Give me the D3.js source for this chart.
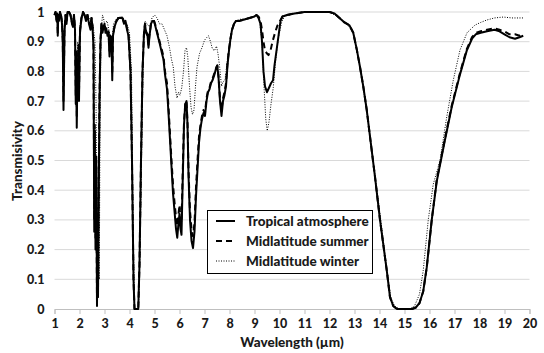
<!DOCTYPE html>
<html>
<head>
<meta charset="utf-8">
<script src="https://cdn.jsdelivr.net/npm/d3@7"></script>
<style>
  html, body { margin: 0; padding: 0; background: #fff; }
  svg { display: block; }
  text { font-family: Lato, "Open Sans", sans-serif; font-weight: 900; fill: #1a1a1a; }
</style>
</head>
<body>
<svg id="chart" width="544" height="353"></svg>
<script>
// Spectral transmissivity, [wavelength (µm), transmissivity]
const tropical = [
  [1.00,0.99],[1.04,1.0],[1.08,0.97],[1.11,0.995],[1.13,0.92],[1.15,0.99],[1.18,0.97],[1.22,1.0],
  [1.26,0.99],[1.30,0.96],[1.33,0.90],[1.36,0.67],[1.38,0.80],[1.40,0.93],[1.44,0.99],[1.48,0.96],
  [1.52,1.0],[1.58,1.0],[1.64,0.99],[1.70,0.96],[1.74,0.95],[1.78,0.99],[1.82,0.94],[1.85,0.69],
  [1.87,0.86],[1.89,0.61],[1.92,0.82],[1.94,0.75],[1.96,0.88],[1.98,0.70],[2.02,0.93],[2.08,0.98],
  [2.14,1.0],[2.20,0.99],[2.26,0.97],[2.32,0.99],[2.38,0.96],[2.44,0.94],[2.48,0.98],[2.52,0.95],
  [2.56,0.88],[2.59,0.26],[2.61,0.60],[2.64,0.20],[2.67,0.50],[2.70,0.01],[2.72,0.30],[2.74,0.04],
  [2.77,0.40],[2.80,0.70],[2.84,0.90],[2.88,0.96],[2.92,0.93],[2.96,0.95],[3.00,0.96],[3.04,0.93],
  [3.08,0.94],[3.12,0.92],[3.16,0.93],[3.20,0.85],[3.24,0.92],[3.28,0.91],[3.31,0.77],[3.34,0.92],
  [3.40,0.95],[3.48,0.97],[3.56,0.98],[3.64,0.98],[3.72,0.98],[3.78,0.96],[3.84,0.97],[3.90,0.94],
  [3.96,0.92],[4.04,0.80],[4.10,0.50],[4.16,0.10],[4.20,0.0],[4.35,0.0],[4.40,0.15],[4.46,0.50],
  [4.52,0.80],[4.58,0.93],[4.62,0.96],[4.66,0.93],[4.72,0.92],[4.76,0.88],[4.80,0.92],[4.86,0.96],
  [4.92,0.97],[4.98,0.97],[5.04,0.95],[5.10,0.93],[5.16,0.91],[5.22,0.89],[5.30,0.86],[5.36,0.84],
  [5.42,0.79],[5.50,0.74],[5.56,0.66],[5.62,0.57],[5.68,0.48],[5.74,0.39],[5.80,0.33],[5.86,0.27],
  [5.91,0.24],[5.96,0.29],[6.00,0.32],[6.04,0.27],[6.08,0.25],[6.12,0.40],[6.18,0.62],[6.23,0.69],
  [6.28,0.70],[6.32,0.62],[6.36,0.45],[6.42,0.30],[6.48,0.23],[6.54,0.205],[6.60,0.26],[6.66,0.38],
  [6.72,0.47],[6.78,0.56],[6.84,0.61],[6.90,0.64],[6.96,0.66],[7.02,0.65],[7.08,0.70],[7.14,0.73],
  [7.20,0.74],[7.26,0.76],[7.32,0.77],[7.40,0.79],[7.46,0.81],[7.51,0.82],[7.56,0.78],[7.62,0.70],
  [7.68,0.65],[7.74,0.70],[7.80,0.72],[7.86,0.75],[7.92,0.82],[7.98,0.87],[8.04,0.91],[8.10,0.94],
  [8.18,0.96],[8.26,0.97],[8.40,0.97],[8.60,0.975],[8.80,0.98],[9.00,0.985],[9.08,0.99],[9.16,0.98],
  [9.24,0.96],[9.30,0.90],[9.36,0.80],[9.42,0.75],[9.50,0.73],[9.58,0.745],[9.66,0.76],[9.74,0.77],
  [9.80,0.82],[9.88,0.87],[9.96,0.92],[10.04,0.97],[10.12,0.985],[10.3,0.99],[10.6,0.995],[11.0,1.0],
  [11.5,1.0],[12.0,1.0],[12.2,0.995],[12.4,0.98],[12.6,0.965],[12.8,0.955],[12.95,0.93],[13.1,0.87],
  [13.22,0.815],[13.35,0.75],[13.49,0.67],[13.65,0.56],[13.82,0.445],[14.02,0.30],[14.29,0.13],
  [14.42,0.04],[14.55,0.01],[14.7,0.0],[15.3,0.0],[15.45,0.005],[15.6,0.02],[15.75,0.06],[15.89,0.14],
  [16.09,0.30],[16.29,0.43],[16.62,0.57],[16.89,0.68],[17.22,0.79],[17.49,0.87],[17.7,0.91],
  [17.85,0.925],[18.05,0.93],[18.3,0.935],[18.6,0.94],[18.8,0.935],[19.0,0.925],[19.2,0.915],
  [19.42,0.91],[19.6,0.915],[19.75,0.92]
];

const midSummer = [
  [1.00,0.99],[1.04,1.0],[1.08,0.975],[1.11,0.995],[1.13,0.93],[1.15,0.99],[1.18,0.975],[1.22,1.0],
  [1.26,0.99],[1.30,0.965],[1.33,0.91],[1.36,0.70],[1.38,0.82],[1.40,0.94],[1.44,0.99],[1.48,0.965],
  [1.52,1.0],[1.58,1.0],[1.64,0.99],[1.70,0.965],[1.74,0.955],[1.78,0.99],[1.82,0.945],[1.85,0.72],
  [1.87,0.87],[1.89,0.65],[1.92,0.84],[1.94,0.78],[1.96,0.89],[1.98,0.73],[2.02,0.94],[2.08,0.98],
  [2.14,1.0],[2.20,0.99],[2.26,0.975],[2.32,0.99],[2.38,0.965],[2.44,0.95],[2.48,0.98],[2.52,0.955],
  [2.56,0.89],[2.59,0.30],[2.61,0.62],[2.64,0.24],[2.67,0.52],[2.70,0.02],[2.72,0.33],[2.74,0.06],
  [2.77,0.43],[2.80,0.72],[2.84,0.91],[2.88,0.96],[2.92,0.94],[2.96,0.955],[3.00,0.96],[3.04,0.94],
  [3.08,0.945],[3.12,0.93],[3.16,0.935],[3.20,0.87],[3.24,0.925],[3.28,0.915],[3.31,0.79],[3.34,0.925],
  [3.40,0.95],[3.48,0.97],[3.56,0.98],[3.64,0.98],[3.72,0.98],[3.78,0.965],[3.84,0.97],[3.90,0.945],
  [3.96,0.925],[4.04,0.80],[4.10,0.50],[4.16,0.10],[4.20,0.0],[4.35,0.0],[4.40,0.15],[4.46,0.50],
  [4.52,0.80],[4.58,0.93],[4.62,0.96],[4.66,0.935],[4.72,0.925],[4.76,0.89],[4.80,0.925],[4.86,0.96],
  [4.92,0.97],[4.98,0.97],[5.04,0.955],[5.10,0.935],[5.16,0.915],[5.22,0.895],[5.30,0.87],[5.36,0.85],
  [5.42,0.80],[5.50,0.76],[5.56,0.68],[5.62,0.59],[5.68,0.50],[5.74,0.42],[5.80,0.36],[5.86,0.31],
  [5.91,0.28],[5.96,0.32],[6.00,0.35],[6.04,0.30],[6.08,0.29],[6.12,0.43],[6.18,0.63],[6.23,0.69],
  [6.28,0.70],[6.32,0.63],[6.36,0.47],[6.42,0.33],[6.48,0.27],[6.54,0.245],[6.60,0.29],[6.66,0.41],
  [6.72,0.50],[6.78,0.58],[6.84,0.62],[6.90,0.65],[6.96,0.67],[7.02,0.66],[7.08,0.71],[7.14,0.735],
  [7.20,0.745],[7.26,0.765],[7.32,0.775],[7.40,0.795],[7.46,0.81],[7.51,0.82],[7.56,0.785],[7.62,0.71],
  [7.68,0.67],[7.74,0.71],[7.80,0.73],[7.86,0.76],[7.92,0.83],[7.98,0.875],[8.04,0.91],[8.10,0.94],
  [8.18,0.96],[8.26,0.97],[8.40,0.97],[8.60,0.975],[8.80,0.98],[9.00,0.985],[9.08,0.99],[9.16,0.985],
  [9.24,0.97],[9.30,0.94],[9.36,0.90],[9.42,0.87],[9.50,0.86],[9.56,0.855],[9.64,0.87],[9.72,0.90],
  [9.82,0.93],[9.92,0.955],[10.02,0.97],[10.12,0.985],[10.3,0.99],[10.6,0.995],[11.0,1.0],
  [11.5,1.0],[12.0,1.0],[12.2,0.995],[12.4,0.98],[12.6,0.965],[12.8,0.955],[12.95,0.93],[13.1,0.87],
  [13.22,0.815],[13.35,0.75],[13.49,0.67],[13.65,0.56],[13.82,0.445],[14.02,0.30],[14.29,0.13],
  [14.42,0.04],[14.55,0.01],[14.7,0.0],[15.3,0.0],[15.45,0.005],[15.6,0.02],[15.75,0.06],[15.89,0.14],
  [16.09,0.30],[16.29,0.435],[16.62,0.575],[16.89,0.685],[17.22,0.795],[17.49,0.875],[17.7,0.915],
  [17.85,0.93],[18.05,0.935],[18.3,0.94],[18.6,0.945],[18.8,0.94],[19.0,0.935],[19.2,0.925],
  [19.42,0.925],[19.6,0.92],[19.75,0.925]
];

const midWinter = [
  [1.00,0.99],[1.10,0.99],[1.13,0.96],[1.20,0.99],[1.30,0.98],[1.36,0.88],[1.40,0.96],[1.50,1.0],
  [1.70,0.98],[1.80,0.97],[1.86,0.85],[1.89,0.80],[1.93,0.90],[1.97,0.85],[2.02,0.96],[2.10,0.99],
  [2.30,0.99],[2.45,0.97],[2.55,0.95],[2.62,0.90],[2.66,0.70],[2.70,0.30],[2.73,0.05],[2.76,0.20],
  [2.79,0.10],[2.82,0.60],[2.86,0.93],[2.92,0.99],[2.96,0.98],[3.00,0.96],[3.10,0.97],[3.20,0.93],
  [3.30,0.90],[3.36,0.96],[3.50,0.98],[3.70,0.985],[3.90,0.96],[4.00,0.93],[4.08,0.80],[4.14,0.30],
  [4.20,0.0],[4.36,0.0],[4.42,0.20],[4.50,0.60],[4.56,0.90],[4.62,0.97],[4.70,0.96],[4.80,0.95],
  [4.90,0.98],[5.00,0.99],[5.10,0.98],[5.20,0.96],[5.30,0.96],[5.40,0.94],[5.50,0.92],[5.60,0.88],
  [5.68,0.84],[5.75,0.815],[5.82,0.75],[5.90,0.71],[5.96,0.73],[6.02,0.72],[6.09,0.745],[6.16,0.80],
  [6.22,0.87],[6.28,0.88],[6.33,0.85],[6.40,0.75],[6.46,0.68],[6.52,0.655],[6.58,0.67],[6.64,0.75],
  [6.70,0.815],[6.80,0.86],[6.90,0.88],[7.00,0.905],[7.10,0.915],[7.16,0.92],[7.24,0.90],[7.32,0.875],
  [7.40,0.87],[7.48,0.885],[7.54,0.86],[7.60,0.82],[7.68,0.75],[7.74,0.765],[7.82,0.77],[7.90,0.83],
  [8.00,0.89],[8.10,0.94],[8.22,0.97],[8.40,0.975],[8.80,0.98],[9.08,0.99],[9.20,0.97],[9.30,0.90],
  [9.38,0.75],[9.45,0.64],[9.51,0.60],[9.58,0.63],[9.66,0.69],[9.75,0.745],[9.85,0.84],[9.95,0.91],
  [10.09,0.967],[10.2,0.985],[10.6,0.995],[11.0,1.0],[12.0,1.0],[12.4,0.98],[12.7,0.96],[12.95,0.93],
  [13.22,0.815],[13.49,0.67],[13.82,0.45],[14.05,0.30],[14.30,0.13],[14.45,0.04],[14.6,0.01],
  [14.8,0.0],[15.2,0.0],[15.4,0.01],[15.6,0.05],[15.75,0.13],[15.95,0.30],[16.15,0.42],[16.42,0.50],
  [16.69,0.647],[16.95,0.77],[17.22,0.872],[17.5,0.93],[17.82,0.956],[18.05,0.965],[18.29,0.973],
  [18.6,0.98],[18.95,0.983],[19.3,0.98],[19.75,0.98]
];

const xTicks = d3.range(1, 21);
const yTicks = d3.range(0, 11).map(i => i / 10);
const seriesNames = ["Tropical atmosphere", "Midlatitude summer", "Midlatitude winter"];

const FONT = "Lato, 'Open Sans', sans-serif";
const svg = d3.select("#chart");
const x = d3.scaleLinear().domain([1, 20]).range([54.5, 529.5]);
const y = d3.scaleLinear().domain([0, 1]).range([309, 12]);

// horizontal gridlines
svg.append("g")
  .selectAll("line")
  .data(yTicks.filter(v => v > 0))
  .join("line")
  .attr("x1", x(1)).attr("x2", x(20))
  .attr("y1", d => y(d)).attr("y2", d => y(d))
  .attr("stroke", "#d9d9d9").attr("stroke-width", 1);

// y axis labels
const yAxis = svg.append("g")
  .attr("transform", `translate(${x(1)},0)`)
  .call(d3.axisLeft(y).tickValues(yTicks).tickSize(0).tickPadding(10)
    .tickFormat(d => d === 0 ? "0" : d === 1 ? "1" : d3.format(".1f")(d)));
yAxis.select(".domain").remove();
yAxis.selectAll("text").attr("font-size", 12.5).attr("font-family", FONT)
  .attr("font-weight", 900).attr("fill", "#1a1a1a");

// x axis
const xAxis = svg.append("g")
  .attr("transform", `translate(0,${y(0)})`)
  .call(d3.axisBottom(x).tickValues(xTicks).tickSize(5).tickPadding(5).tickFormat(d3.format("d")));
xAxis.select(".domain").attr("stroke", "#bfbfbf");
xAxis.selectAll(".tick line").attr("stroke", "#bfbfbf");
xAxis.selectAll("text").attr("font-size", 12.5).attr("font-family", FONT)
  .attr("font-weight", 900).attr("fill", "#1a1a1a");

// series lines
const line = d3.line().x(d => x(d[0])).y(d => y(d[1]));
const styles = [
  { data: tropical, width: 2, dash: null },
  { data: midSummer, width: 2, dash: "6,4" },
  { data: midWinter, width: 1, dash: "1,1.5" }
];
svg.append("g").selectAll("path")
  .data(styles.slice().reverse())
  .join("path")
  .attr("d", d => line(d.data))
  .attr("fill", "none")
  .attr("stroke", "#000")
  .attr("stroke-width", d => d.width)
  .attr("stroke-dasharray", d => d.dash)
  .attr("stroke-linejoin", "round");

// axis titles
svg.append("text")
  .attr("x", 292).attr("y", 347)
  .attr("text-anchor", "middle")
  .attr("font-size", 13.5)
  .text("Wavelength (µm)");
svg.append("text")
  .attr("transform", "translate(22,161) rotate(-90)")
  .attr("text-anchor", "middle")
  .attr("font-size", 13.5)
  .text("Transmisivity");

// legend
const legend = svg.append("g");
legend.append("rect")
  .attr("x", 207.5).attr("y", 210.5).attr("width", 165).attr("height", 63)
  .attr("fill", "#fff").attr("stroke", "#000").attr("stroke-width", 1);
const rows = legend.selectAll("g.row")
  .data(seriesNames.map((name, i) => ({ name, style: styles[i] })))
  .join("g").attr("class", "row")
  .attr("transform", (d, i) => `translate(0,${221 + i * 20})`);
rows.append("line")
  .attr("x1", 216).attr("x2", 235).attr("y1", 0).attr("y2", 0)
  .attr("stroke", "#000")
  .attr("stroke-width", d => d.style.width)
  .attr("stroke-dasharray", d => d.style.dash);
rows.append("text")
  .attr("x", 246).attr("y", 0).attr("dy", "0.35em")
  .attr("font-size", 13.5)
  .text(d => d.name);
</script>
</body>
</html>
